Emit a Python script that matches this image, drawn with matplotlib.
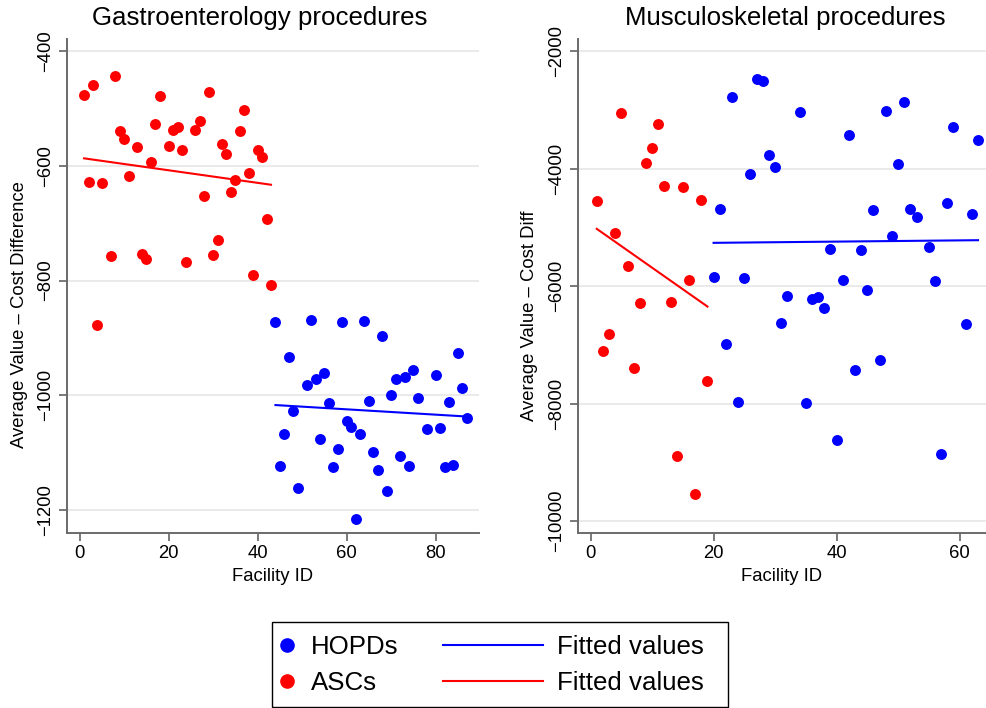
import matplotlib
matplotlib.use("Agg")
import matplotlib.pyplot as plt
from matplotlib.lines import Line2D
from matplotlib.patches import Rectangle

plt.rcParams['font.family'] = ['Liberation Sans', 'DejaVu Sans']

# Gastroenterology: ASCs (red) and HOPDs (blue)
gi_asc_id = [1, 2, 3, 4, 5, 7, 8, 9, 10, 11, 13, 14, 15, 16, 17, 18, 20, 21, 22, 23,
             24, 26, 27, 28, 29, 30, 31, 32, 33, 34, 35, 36, 37, 38, 39, 40, 41, 42, 43]
gi_asc_val = [-477, -628, -459, -877, -630, -758, -444, -539, -553, -618, -568, -753,
              -763, -594, -528, -479, -566, -537, -533, -572, -767, -537, -522, -653,
              -471, -755, -730, -562, -579, -645, -624, -539, -503, -613, -790, -573,
              -584, -692, -808]
gi_hopd_id = [44, 45, 46, 47, 48, 49, 51, 52, 53, 54, 55, 56, 57, 58, 59, 60, 61, 62,
              63, 64, 65, 66, 67, 68, 69, 70, 71, 72, 73, 74, 75, 76, 78, 80, 81, 82,
              83, 84, 85, 86, 87]
gi_hopd_val = [-872, -1123, -1068, -934, -1028, -1162, -982, -869, -972, -1076, -962,
               -1013, -1125, -1093, -873, -1045, -1056, -1216, -1067, -870, -1010,
               -1099, -1130, -897, -1166, -999, -972, -1106, -968, -1124, -956, -1005,
               -1059, -965, -1057, -1125, -1012, -1121, -927, -988, -1039]
gi_asc_fit_x = [1, 43]
gi_asc_fit_y = [-587, -633]
gi_hopd_fit_x = [44, 87]
gi_hopd_fit_y = [-1017, -1037]

# Musculoskeletal
ms_asc_id = list(range(1, 20))
ms_asc_val = [-4546, -7108, -6813, -5101, -3060, -5657, -7397, -6297, -3910, -3656,
              -3241, -4296, -6274, -8893, -4307, -5900, -9539, -4528, -7624]
ms_hopd_id = [20, 21, 22, 23, 24, 25, 26, 27, 28, 29, 30, 31, 32, 34, 35, 36, 37, 38,
              39, 40, 41, 42, 43, 44, 45, 46, 47, 48, 49, 50, 51, 52, 53, 55, 56, 57,
              58, 59, 61, 62, 63]
ms_hopd_val = [-5838, -4687, -6983, -2777, -7970, -5866, -4092, -2482, -2505, -3774,
               -3973, -6621, -6172, -3037, -7986, -6223, -6189, -6366, -5367, -8628,
               -5895, -3434, -7430, -5390, -6065, -4710, -7255, -3026, -5146, -3916,
               -2862, -4692, -4818, -5328, -5912, -8866, -4585, -3287, -6638, -4767,
               -3514]
ms_asc_fit_x = [1, 19]
ms_asc_fit_y = [-5027, -6349]
ms_hopd_fit_x = [20, 63]
ms_hopd_fit_y = [-5265, -5220]

W, H = 987, 708
fig = plt.figure(figsize=(W / 100, H / 100), dpi=100)
ax1 = fig.add_axes([66.7 / W, 1 - 533 / H, (479.3 - 66.7) / W, (533 - 39) / H])
ax2 = fig.add_axes([577.7 / W, 1 - 533 / H, (986 - 577.7) / W, (533 - 39) / H])

panels = [
    (ax1, gi_hopd_id, gi_hopd_val, gi_asc_id, gi_asc_val,
     gi_hopd_fit_x, gi_hopd_fit_y, gi_asc_fit_x, gi_asc_fit_y,
     (-2.9, 89.8), (-1240, -379), [0, 20, 40, 60, 80], range(-1200, -399, 200),
     'Average Value \u2013 Cost Difference', -0.094, 0.443),
    (ax2, ms_hopd_id, ms_hopd_val, ms_asc_id, ms_asc_val,
     ms_hopd_fit_x, ms_hopd_fit_y, ms_asc_fit_x, ms_asc_fit_y,
     (-2.1, 64.3), (-10203, -1796), [0, 20, 40, 60], range(-10000, -1999, 2000),
     'Average Value \u2013 Cost Diff', -0.097, 0.44),
]

for (ax, hx, hy, ax_, ay, hfx, hfy, afx, afy, xl, yl, xt, yt, ylab, ylx, yly) in panels:
    ax.scatter(hx, hy, s=62, color='#0000ff', linewidths=0, zorder=3)
    ax.scatter(ax_, ay, s=62, color='#ff0000', linewidths=0, zorder=3)
    ax.plot(hfx, hfy, color='#0000ff', lw=1.5, zorder=4)
    ax.plot(afx, afy, color='#ff0000', lw=1.5, zorder=4)
    ax.set_xlim(*xl)
    ax.set_ylim(*yl)
    ax.set_xticks(xt)
    ax.set_yticks(list(yt))
    ax.grid(axis='y', color='#e6e6e6', lw=1.2)
    ax.set_axisbelow(True)
    for s in ['top', 'right']:
        ax.spines[s].set_visible(False)
    for s in ['left', 'bottom']:
        ax.spines[s].set_color('#6a6a6a')
        ax.spines[s].set_linewidth(1.4)
    ax.tick_params(direction='out', length=6, width=1.1, color='#555555',
                   labelsize=13.3, pad=3)
    for lab in ax.get_yticklabels():
        lab.set_rotation(90)
        lab.set_va('center')
    ax.set_xlabel('Facility ID', fontsize=13.3, labelpad=4)
    ax.set_ylabel(ylab, fontsize=13.3)
    ax.yaxis.set_label_coords(ylx, yly)

fig.text(260 / W, 1 - 18 / H, 'Gastroenterology procedures', fontsize=18.6,
         ha='center', va='center')
fig.text(785 / W, 1 - 18 / H, 'Musculoskeletal procedures', fontsize=18.6,
         ha='center', va='center')

# legend: box drawn around two legends
fig.patches.append(Rectangle((271.7 / W, 1 - 707 / H), 456.6 / W, 85 / H,
                             transform=fig.transFigure, fill=False,
                             ec='black', lw=1.0))
pts = [Line2D([], [], ls='none', marker='o', ms=9.5, color='#0000ff'),
       Line2D([], [], ls='none', marker='o', ms=9.5, color='#ff0000')]
lines = [Line2D([], [], color='#0000ff', lw=1.5),
         Line2D([], [], color='#ff0000', lw=1.5)]
fig.legend(pts, ['HOPDs', 'ASCs'], loc='center left',
           bbox_to_anchor=(272 / W, 1 - 665 / H), frameon=False, fontsize=18.6,
           handlelength=0.8, handletextpad=0.5, labelspacing=0.5,
           borderpad=0.2, borderaxespad=0)
fig.legend(lines, ['Fitted values', 'Fitted values'], loc='center left',
           bbox_to_anchor=(438 / W, 1 - 665 / H), frameon=False, fontsize=18.6,
           handlelength=3.85, handletextpad=0.55, labelspacing=0.5,
           borderpad=0.2, borderaxespad=0)

fig.savefig('out.png', dpi=100)
